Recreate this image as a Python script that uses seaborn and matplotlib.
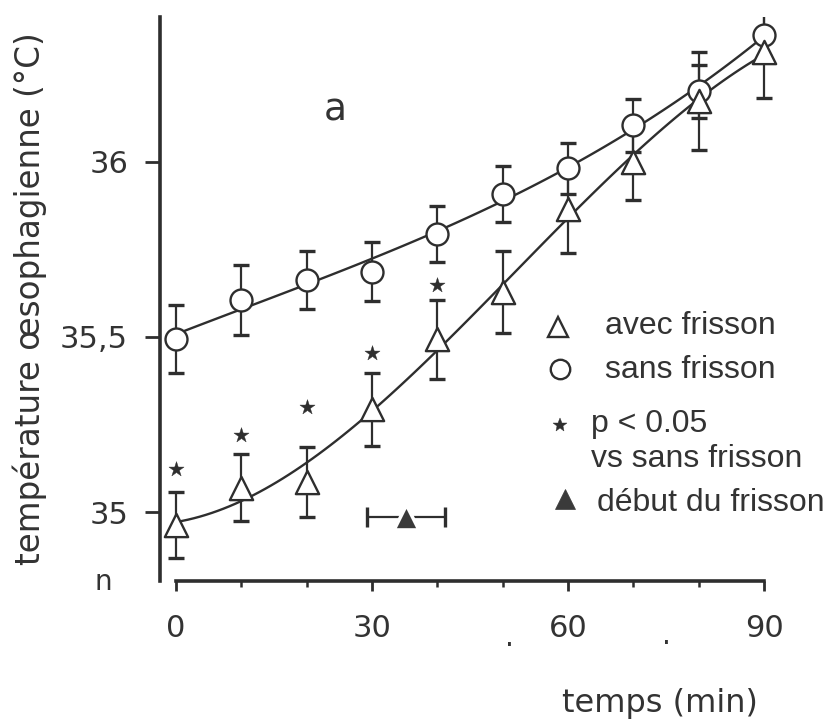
import matplotlib
matplotlib.use("Agg")
import matplotlib.pyplot as plt
from matplotlib.lines import Line2D
import numpy as np
import pandas as pd
import seaborn as sns

# ---------------- data ----------------
temps = [0, 10, 20, 30, 40, 50, 60, 70, 80, 90]
sans_frisson = [35.494, 35.605, 35.664, 35.687, 35.795, 35.909, 35.982, 36.105, 36.202, 36.363]
sans_err = [0.097, 0.100, 0.083, 0.085, 0.080, 0.080, 0.073, 0.076, 0.076, 0.060]
avec_frisson = [34.964, 35.070, 35.087, 35.293, 35.494, 35.629, 35.865, 36.000, 36.175, 36.313]
avec_err = [0.094, 0.097, 0.100, 0.105, 0.113, 0.118, 0.125, 0.110, 0.140, 0.130]
star_temps = [0, 10, 20, 30, 40]
star_vals = [35.123, 35.221, 35.299, 35.455, 35.649]
onset_temps = [35.2]
onset_vals = [34.986]
onset_err = [5.9]
xticks = [0, 30, 60, 90]
xminor = [10, 20, 40, 50, 70, 80]
yticks = [35.0, 35.5, 36.0]
ytick_labels = ["35", "35,5", "36"]

df_sans = pd.DataFrame({"temps": temps, "temp": sans_frisson})
df_avec = pd.DataFrame({"temps": temps, "temp": avec_frisson})

# ---------------- style ----------------
sns.set_style("ticks")
plt.rcParams["font.family"] = ["DejaVu Sans"]
INK = "#2e2e2e"
TXT = "#333333"

W, H = 828, 722
fig = plt.figure(figsize=(W / 100, H / 100), dpi=100)
ax = fig.add_axes([160 / W, (H - 581) / H, 636.7 / W, 564 / H])

def fx(px):
    return px / W

def fy(py):
    return 1 - py / H

# smooth curves
sns.regplot(data=df_avec, x="temps", y="temp", order=3, ci=None, scatter=False,
            truncate=True, ax=ax, line_kws=dict(color=INK, lw=1.7, zorder=2))
sns.regplot(data=df_sans, x="temps", y="temp", order=3, ci=None, scatter=False,
            truncate=True, ax=ax, line_kws=dict(color=INK, lw=1.7, zorder=2))

# error bars
for vals, err in [(sans_frisson, sans_err), (avec_frisson, avec_err)]:
    ax.errorbar(temps, vals, yerr=err, fmt="none", ecolor=INK, elinewidth=1.6,
                capsize=5.5, capthick=2.4, zorder=2)

# markers
sns.scatterplot(data=df_sans, x="temps", y="temp", marker="o", s=250,
                facecolor="white", edgecolor=INK, linewidth=1.7, ax=ax, zorder=4)
sns.scatterplot(data=df_avec, x="temps", y="temp", marker="^", s=280,
                facecolor="white", edgecolor=INK, linewidth=1.7, ax=ax, zorder=4)
sns.scatterplot(x=star_temps, y=star_vals, marker="*", s=130, color=INK,
                edgecolor=INK, linewidth=0.3, ax=ax, zorder=4)

# onset of shivering
ax.errorbar(onset_temps, onset_vals, xerr=onset_err, fmt="none", ecolor=INK,
            elinewidth=1.6, capsize=7, capthick=2.4, zorder=2)
sns.scatterplot(x=onset_temps, y=onset_vals, marker="^", s=320, color="#3a3a3a",
                edgecolor="white", linewidth=2.5, ax=ax, zorder=4)

# axes
ax.set_xlim(-2.45, 95)
ax.set_ylim(34.803, 36.414)
sns.despine(ax=ax)
ax.spines["bottom"].set_bounds(0, 90)
ax.spines["left"].set_linewidth(2.6)
ax.spines["bottom"].set_linewidth(2.6)
ax.spines["left"].set_color(INK)
ax.spines["bottom"].set_color(INK)

ax.set_xticks(xticks)
ax.set_xticks(xminor, minor=True)
ax.set_xticklabels([str(v) for v in xticks])
ax.set_yticks(yticks)
ax.set_yticklabels(ytick_labels)
ax.tick_params(axis="x", which="major", direction="out", length=7, width=2,
               color=INK, labelsize=22, labelcolor=TXT, pad=17)
ax.tick_params(axis="x", which="minor", direction="out", length=4, width=1.8,
               color=INK)
ax.tick_params(axis="y", which="major", direction="out", length=11, width=2,
               color=INK, labelsize=22, labelcolor=TXT, pad=12)

ax.set_ylabel("température œsophagienne (°C)", fontsize=23.5, color=TXT)
ax.yaxis.set_label_coords(-0.178, 0.5)
ax.set_xlabel("temps (min)", fontsize=23, color=TXT, ha="right")
ax.xaxis.set_label_coords(0.939, -0.19)
ax.xaxis.label.set_va("top")

ax.text(0.275, 0.835, "a", transform=ax.transAxes, fontsize=27, color=TXT,
        ha="center", va="center")

# legend drawn by hand
leg_kw = dict(transform=fig.transFigure, clip_on=False, linestyle="none")
fig.add_artist(Line2D([fx(558)], [fy(327)], marker="^", markersize=14,
                      markerfacecolor="white", markeredgecolor=INK, mew=1.7, **leg_kw))
fig.add_artist(Line2D([fx(560)], [fy(369)], marker="o", markersize=14,
                      markerfacecolor="white", markeredgecolor=INK, mew=1.7, **leg_kw))
fig.add_artist(Line2D([fx(560)], [fy(425)], marker="*", markersize=10,
                      markerfacecolor=INK, markeredgecolor=INK, mew=0.3, **leg_kw))
fig.add_artist(Line2D([fx(565)], [fy(499)], marker="^", markersize=15,
                      markerfacecolor="#3a3a3a", markeredgecolor="#3a3a3a", mew=0.5, **leg_kw))
txt_kw = dict(fontsize=23, color=TXT, ha="left", va="center",
              family=["Liberation Sans", "DejaVu Sans"])
fig.text(fx(605), fy(326), "avec frisson", **txt_kw)
fig.text(fx(605), fy(370), "sans frisson", **txt_kw)
fig.text(fx(591), fy(424), "p < 0.05", **txt_kw)
fig.text(fx(591), fy(459), "vs sans frisson", **txt_kw)
fig.text(fx(597), fy(503), "début du frisson", **txt_kw)

# stray marks of the original
fig.text(fx(103), fy(582), "n", fontsize=20, color=TXT, ha="center", va="center")
fig.text(fx(509), fy(638), ".", fontsize=20, color=TXT, ha="center", va="center")
fig.text(fx(666), fy(636), ".", fontsize=20, color=TXT, ha="center", va="center")

fig.savefig("out.png", dpi=100)
